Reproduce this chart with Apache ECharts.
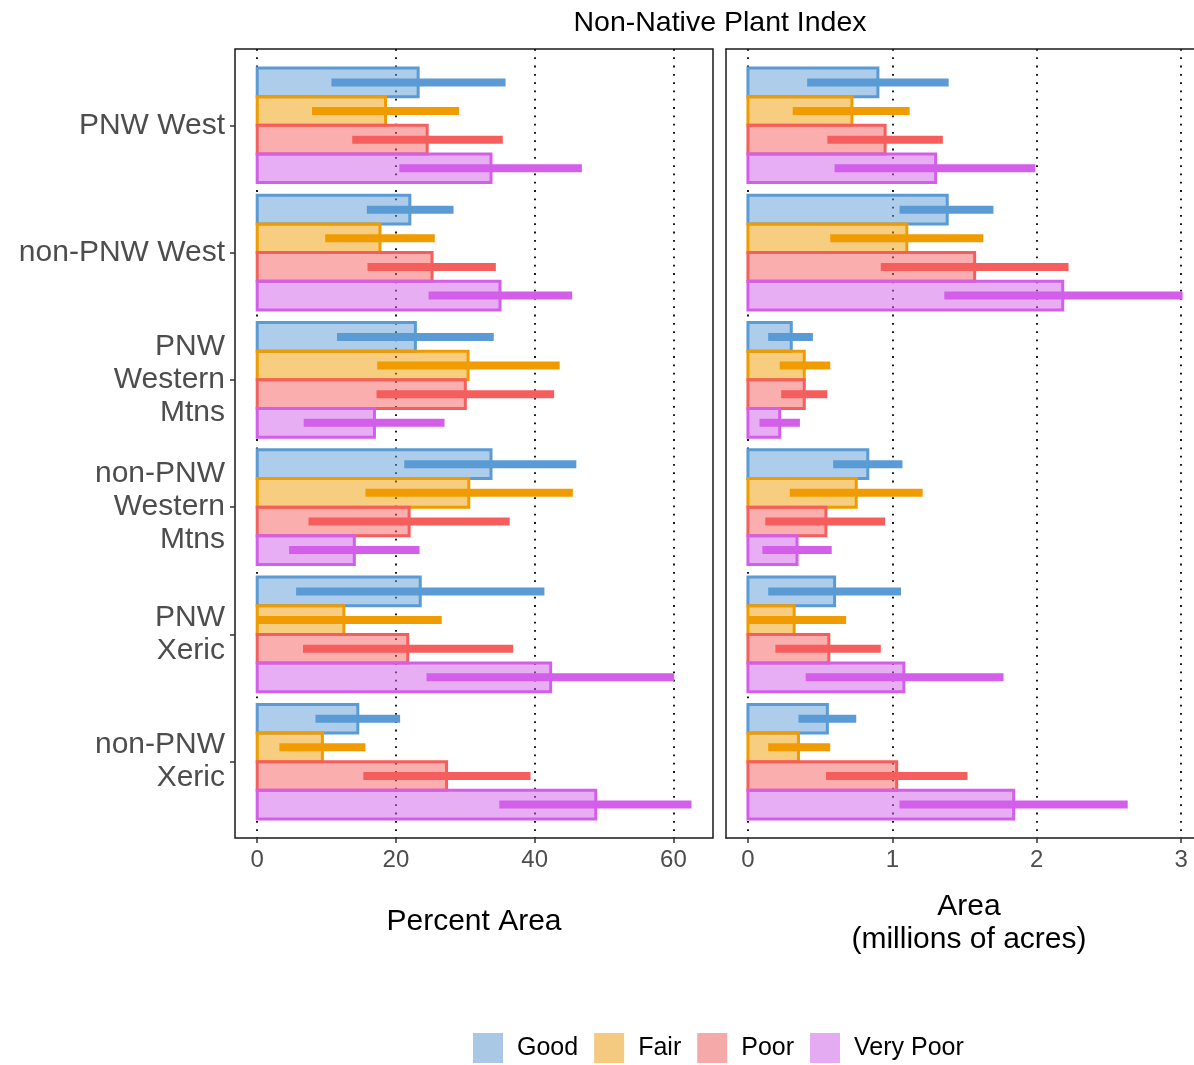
<!DOCTYPE html>
<html>
<head>
<meta charset="utf-8">
<script src="https://cdn.jsdelivr.net/npm/echarts@6/dist/echarts.min.js"></script>
<style>
html,body{margin:0;padding:0;background:#fff;}
#chart{width:1194px;height:1065px;}
</style>
</head>
<body>
<div id="chart"></div>
<script>
// ---------- DATA ----------
var categories = ["PNW West", "non-PNW West", "PNW\nWestern\nMtns", "non-PNW\nWestern\nMtns", "PNW\nXeric", "non-PNW\nXeric"];
var conditions = ["Good", "Fair", "Poor", "Very Poor"];
var pctTicks = [0, 20, 40, 60];
var areaTicks = [0, 1, 2, 3];

// Percent area
var pctGood    = [23.2, 22.0, 22.8, 33.7, 23.5, 14.5];
var pctGoodLo  = [10.7, 15.8, 11.5, 21.2, 5.6, 8.4];
var pctGoodHi  = [35.8, 28.3, 34.1, 46.0, 41.4, 20.6];
var pctFair    = [18.5, 17.7, 30.4, 30.5, 12.5, 9.4];
var pctFairLo  = [7.9, 9.8, 17.3, 15.6, 0.0, 3.2];
var pctFairHi  = [29.1, 25.6, 43.6, 45.5, 26.6, 15.6];
var pctPoor    = [24.5, 25.2, 30.0, 21.9, 21.7, 27.3];
var pctPoorLo  = [13.7, 15.9, 17.2, 7.4, 6.6, 15.3];
var pctPoorHi  = [35.4, 34.4, 42.8, 36.4, 36.9, 39.4];
var pctVPoor   = [33.7, 35.0, 16.9, 14.0, 42.3, 48.8];
var pctVPoorLo = [20.5, 24.7, 6.7, 4.6, 24.4, 34.9];
var pctVPoorHi = [46.8, 45.4, 27.0, 23.4, 60.1, 62.6];

// Area (millions of acres)
var areaGood    = [0.90, 1.38, 0.30, 0.83, 0.60, 0.55];
var areaGoodLo  = [0.41, 1.05, 0.14, 0.59, 0.14, 0.35];
var areaGoodHi  = [1.39, 1.70, 0.45, 1.07, 1.06, 0.75];
var areaFair    = [0.72, 1.10, 0.39, 0.75, 0.32, 0.35];
var areaFairLo  = [0.31, 0.57, 0.22, 0.29, 0.00, 0.14];
var areaFairHi  = [1.12, 1.63, 0.57, 1.21, 0.68, 0.57];
var areaPoor    = [0.95, 1.57, 0.39, 0.54, 0.56, 1.03];
var areaPoorLo  = [0.55, 0.92, 0.23, 0.12, 0.19, 0.54];
var areaPoorHi  = [1.35, 2.22, 0.55, 0.95, 0.92, 1.52];
var areaVPoor   = [1.30, 2.18, 0.22, 0.34, 1.08, 1.84];
var areaVPoorLo = [0.60, 1.36, 0.08, 0.10, 0.40, 1.05];
var areaVPoorHi = [1.99, 3.01, 0.36, 0.58, 1.77, 2.63];

// ---------- STYLE ----------
var FONT = "'Liberation Sans', Arial, sans-serif";
var darkColors  = ["#5b9bd5", "#f09c00", "#f65e5e", "#d25eea"];
var fillColors  = ["rgba(91,155,213,0.5)", "rgba(240,156,0,0.5)", "rgba(246,94,94,0.5)", "rgba(210,94,234,0.5)"];
var legendColors = ["#a9c8e6", "#f3ca80", "#f6a9a9", "#e4aaf2"];
var BAR_H = 0.225;
var FRAME = { color: '#1a1a1a', width: 1.5 };

function makeSeries(k, axisIdx, vals, lo, hi) {
  var data = vals.map(function (v, i) { return [i, v, lo[i], hi[i]]; });
  return {
    type: 'custom',
    name: conditions[k],
    xAxisIndex: axisIdx,
    yAxisIndex: axisIdx,
    itemStyle: { color: legendColors[k] },
    encode: { x: [1, 2, 3], y: 0 },
    data: data,
    z: 2 + k,
    renderItem: function (params, api) {
      var cat = api.value(0), v = api.value(1), l = api.value(2), h = api.value(3);
      var yc = cat + (k - 1.5) * BAR_H;
      var p0 = api.coord([0, yc]);
      var p1 = api.coord([v, yc]);
      var hh = Math.abs(api.size([0, BAR_H])[1]);
      var e0 = api.coord([l, yc]);
      var e1 = api.coord([h, yc]);
      return {
        type: 'group',
        children: [
          { type: 'rect', shape: { x: p0[0], y: p0[1] - hh / 2, width: p1[0] - p0[0], height: hh },
            style: { fill: fillColors[k], stroke: darkColors[k], lineWidth: 3 } },
          { type: 'rect', shape: { x: e0[0], y: p0[1] - 4, width: e1[0] - e0[0], height: 8 },
            style: { fill: darkColors[k] } }
        ]
      };
    }
  };
}

function xAxisCfg(gridIdx, min, max, ticks, name, nameGap, namePad, showLine) {
  return {
    type: 'value', gridIndex: gridIdx, min: min, max: max,
    axisLine: { show: showLine, onZero: false, lineStyle: FRAME },
    axisTick: { show: true, customValues: ticks, length: 5, lineStyle: { color: '#333', width: 1.5 } },
    axisLabel: { customValues: ticks, fontSize: 24, color: '#4d4d4d', fontFamily: FONT, margin: 10 },
    splitLine: { show: true, lineStyle: { color: '#000', width: 1.8, type: [1.8, 6.5] } },
    name: name, nameLocation: 'middle', nameGap: nameGap,
    nameTextStyle: { fontSize: 30, color: '#000', fontFamily: FONT, lineHeight: 33, padding: namePad }
  };
}

function yAxisCfg(gridIdx, showLabels, showLine) {
  return {
    type: 'value', gridIndex: gridIdx, min: -0.6, max: 5.6, inverse: true,
    axisLine: { show: showLine, onZero: false, lineStyle: FRAME },
    splitLine: { show: false },
    axisTick: { show: showLabels, customValues: [0, 1, 2, 3, 4, 5], length: 5, lineStyle: { color: '#333', width: 1.5 } },
    axisLabel: {
      show: showLabels, customValues: [0, 1, 2, 3, 4, 5],
      formatter: function (v) { return categories[Math.round(v)]; },
      fontSize: 30, lineHeight: 33, color: '#4d4d4d', fontFamily: FONT, margin: 10, align: 'right',
      padding: [5, 0, 0, 0]
    }
  };
}

var pctSets = [[pctGood, pctGoodLo, pctGoodHi], [pctFair, pctFairLo, pctFairHi], [pctPoor, pctPoorLo, pctPoorHi], [pctVPoor, pctVPoorLo, pctVPoorHi]];
var areaSets = [[areaGood, areaGoodLo, areaGoodHi], [areaFair, areaFairLo, areaFairHi], [areaPoor, areaPoorLo, areaPoorHi], [areaVPoor, areaVPoorLo, areaVPoorHi]];

var series = [];
pctSets.forEach(function (s, k) { series.push(makeSeries(k, 0, s[0], s[1], s[2])); });
areaSets.forEach(function (s, k) { series.push(makeSeries(k, 1, s[0], s[1], s[2])); });

var AREA_MIN = -0.152, AREA_MAX = 3.089;

var chart = echarts.init(document.getElementById('chart'), null, { renderer: 'canvas' });
chart.setOption({
  animation: false,
  backgroundColor: '#fff',
  textStyle: { fontFamily: FONT },
  title: {
    text: 'Non-Native Plant Index', left: 715, top: 4, textAlign: 'center',
    textStyle: { fontSize: 28.5, fontWeight: 'normal', color: '#000', fontFamily: FONT }
  },
  legend: {
    left: 473, top: 1033, padding: 0, itemWidth: 30, itemHeight: 30, itemGap: 16, icon: 'rect',
    selectedMode: false,
    textStyle: { fontSize: 25, color: '#000', fontFamily: FONT, padding: [4, 0, 0, 9] },
    data: conditions.map(function (c, k) { return { name: c, itemStyle: { color: legendColors[k], borderWidth: 0 } }; })
  },
  grid: [
    { left: 235, top: 49, width: 478, height: 789, show: true, borderColor: '#1a1a1a', borderWidth: 1.5, backgroundColor: 'transparent' },
    { left: 726, top: 49, right: 0, height: 789, show: false }
  ],
  xAxis: [
    xAxisCfg(0, -3.2, 65.7, pctTicks, 'Percent Area', 67, 0, false),
    xAxisCfg(1, AREA_MIN, AREA_MAX, areaTicks, 'Area\n(millions of acres)', 52, [0, 0, 0, 18], true),
    { type: 'value', gridIndex: 1, position: 'top', min: AREA_MIN, max: AREA_MAX,
      axisLine: { show: true, onZero: false, lineStyle: FRAME },
      axisTick: { show: false }, axisLabel: { show: false }, splitLine: { show: false } }
  ],
  yAxis: [yAxisCfg(0, true, false), yAxisCfg(1, false, true)],
  series: series
});
</script>
</body>
</html>
